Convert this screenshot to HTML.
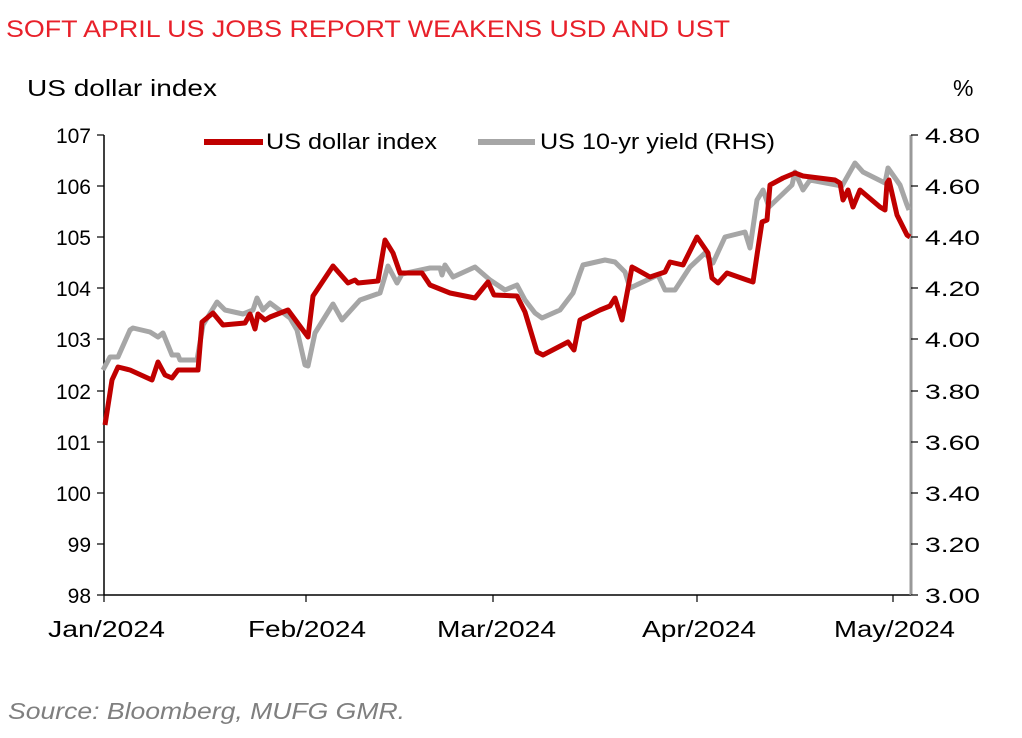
<!DOCTYPE html>
<html><head><style>
body{margin:0;background:#fff;}
svg text{font-family:"Liberation Sans",Arial,sans-serif;}
</style></head><body>
<svg width="1022" height="733" viewBox="0 0 1022 733" xmlns="http://www.w3.org/2000/svg">
<rect width="1022" height="733" fill="#fff"/>
<text x="6" y="37" font-size="24" fill="#e8202a" textLength="724" lengthAdjust="spacingAndGlyphs">SOFT APRIL US JOBS REPORT WEAKENS USD AND UST</text>
<text x="27" y="96" font-size="23" fill="#000" textLength="190" lengthAdjust="spacingAndGlyphs">US dollar index</text>
<text x="953" y="96" font-size="23" fill="#000">%</text>
<g stroke="#000" stroke-width="1.5" fill="none">
<line x1="104" y1="135" x2="104" y2="595"/>
<line x1="104" y1="595" x2="911" y2="595"/>
</g>
<line x1="911" y1="135" x2="911" y2="595" stroke="#999" stroke-width="3"/>
<g stroke="#000" stroke-width="1.2">
<line x1="97" y1="135" x2="104" y2="135"/><line x1="97" y1="186" x2="104" y2="186"/><line x1="97" y1="237" x2="104" y2="237"/><line x1="97" y1="288" x2="104" y2="288"/><line x1="97" y1="339" x2="104" y2="339"/><line x1="97" y1="391" x2="104" y2="391"/><line x1="97" y1="442" x2="104" y2="442"/><line x1="97" y1="493" x2="104" y2="493"/><line x1="97" y1="544" x2="104" y2="544"/><line x1="97" y1="595" x2="104" y2="595"/>
<line x1="911" y1="135" x2="918" y2="135"/><line x1="911" y1="186" x2="918" y2="186"/><line x1="911" y1="237" x2="918" y2="237"/><line x1="911" y1="288" x2="918" y2="288"/><line x1="911" y1="339" x2="918" y2="339"/><line x1="911" y1="391" x2="918" y2="391"/><line x1="911" y1="442" x2="918" y2="442"/><line x1="911" y1="493" x2="918" y2="493"/><line x1="911" y1="544" x2="918" y2="544"/><line x1="911" y1="595" x2="918" y2="595"/>
<line x1="104" y1="595" x2="104" y2="602"/><line x1="306" y1="595" x2="306" y2="602"/><line x1="493" y1="595" x2="493" y2="602"/><line x1="697" y1="595" x2="697" y2="602"/><line x1="893" y1="595" x2="893" y2="602"/>
</g>
<g font-size="21" fill="#000" text-anchor="end">
<text x="91" y="143">107</text><text x="91" y="194">106</text><text x="91" y="245">105</text><text x="91" y="296">104</text><text x="91" y="347">103</text><text x="91" y="399">102</text><text x="91" y="450">101</text><text x="91" y="501">100</text><text x="91" y="552">99</text><text x="91" y="603">98</text>
</g>
<g font-size="21" fill="#000" text-anchor="start">
<text x="925" y="143" textLength="55" lengthAdjust="spacingAndGlyphs">4.80</text><text x="925" y="194" textLength="55" lengthAdjust="spacingAndGlyphs">4.60</text><text x="925" y="245" textLength="55" lengthAdjust="spacingAndGlyphs">4.40</text><text x="925" y="296" textLength="55" lengthAdjust="spacingAndGlyphs">4.20</text><text x="925" y="347" textLength="55" lengthAdjust="spacingAndGlyphs">4.00</text><text x="925" y="399" textLength="55" lengthAdjust="spacingAndGlyphs">3.80</text><text x="925" y="450" textLength="55" lengthAdjust="spacingAndGlyphs">3.60</text><text x="925" y="501" textLength="55" lengthAdjust="spacingAndGlyphs">3.40</text><text x="925" y="552" textLength="55" lengthAdjust="spacingAndGlyphs">3.20</text><text x="925" y="603" textLength="55" lengthAdjust="spacingAndGlyphs">3.00</text>
</g>
<g font-size="23" fill="#000">
<text x="48" y="637" textLength="117" lengthAdjust="spacingAndGlyphs">Jan/2024</text>
<text x="248" y="637" textLength="118" lengthAdjust="spacingAndGlyphs">Feb/2024</text>
<text x="437" y="637" textLength="119" lengthAdjust="spacingAndGlyphs">Mar/2024</text>
<text x="642" y="637" textLength="114" lengthAdjust="spacingAndGlyphs">Apr/2024</text>
<text x="834" y="637" textLength="121" lengthAdjust="spacingAndGlyphs">May/2024</text>
</g>
<line x1="204" y1="142" x2="263" y2="142" stroke="#c00000" stroke-width="6"/>
<text x="266" y="149" font-size="22" fill="#000" textLength="171" lengthAdjust="spacingAndGlyphs">US dollar index</text>
<line x1="478" y1="142" x2="535" y2="142" stroke="#a6a6a6" stroke-width="6"/>
<text x="540" y="149" font-size="22" fill="#000" textLength="235" lengthAdjust="spacingAndGlyphs">US 10-yr yield (RHS)</text>
<polyline fill="none" stroke="#a6a6a6" stroke-width="5" stroke-linejoin="round" points="103,370 110,357 118,357 130,330 133,328 150,332 158,337 163,333 172,355 178,355 180,360 197,360 203,325 217,302 225,310 243,314 253,310 257,298 263,310 270,303 290,318 297,330 305,365 308,366 315,333 333,304 342,320 360,300 380,293 388,266 397,283 402,274 430,268 440,268 442,275 445,265 453,277 475,267 490,280 505,290 517,285 525,300 535,313 542,318 560,310 573,293 580,273 583,265 605,260 615,262 625,272 630,288 658,275 665,290 675,290 690,267 705,253 713,263 725,237 745,232 750,248 757,200 763,190 769,207 792,185 795,172 803,190 810,180 842,186 855,163 863,172 885,183 888,168 900,185 907,205 909,210"/>
<polyline fill="none" stroke="#c00000" stroke-width="5" stroke-linejoin="round" points="105,425 112,380 118,367 130,370 152,380 158,362 165,375 172,378 178,370 198,370 202,322 213,313 223,325 245,323 250,314 255,329 258,314 265,320 270,317 288,310 308,337 313,296 333,266 348,283 355,280 358,283 378,281 385,240 393,253 400,273 422,273 430,285 450,293 475,298 488,282 494,295 517,296 525,312 537,352 543,355 568,342 574,350 580,320 600,310 610,306 615,298 622,320 632,267 650,277 665,272 670,262 683,265 697,237 708,253 712,278 718,283 727,273 747,280 753,282 757,255 762,222 767,220 770,185 783,178 795,173 803,176 835,180 840,183 843,200 848,190 853,207 860,190 880,207 885,210 887,183 889,180 897,215 907,235 910,237"/>
<text x="8" y="719" font-size="23" font-style="italic" fill="#7f7f7f" textLength="397" lengthAdjust="spacingAndGlyphs">Source: Bloomberg, MUFG GMR.</text>
</svg>
</body></html>
